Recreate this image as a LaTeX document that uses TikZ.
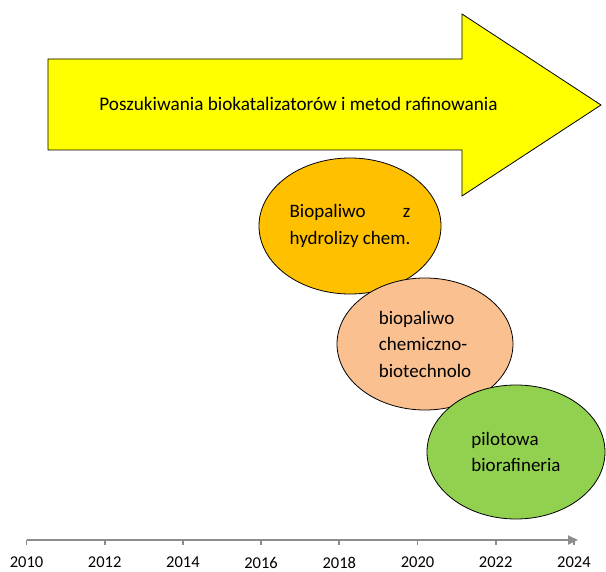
\documentclass[tikz,border=0pt]{standalone}
\usepackage{fontspec}
\setmainfont{Carlito}
\usepackage{calc}
\usetikzlibrary{shapes.geometric,arrows.meta,calc}
\definecolor{yel}{HTML}{FFFF00}
\definecolor{ora}{HTML}{FFC000}
\definecolor{pea}{HTML}{FAC090}
\definecolor{gre}{HTML}{92D050}
\definecolor{axisgray}{HTML}{8C8C8C}
\tikzset{
  blob/.style={ellipse, draw=black, line width=0.8pt, inner sep=0pt,
    minimum width=178pt, minimum height=134pt, align=left,
    font=\fontsize{19}{26.5}\selectfont},
  yearlbl/.style={font=\fontsize{16.5}{18}\selectfont, anchor=center, inner sep=0pt},
}
\begin{document}
\begin{tikzpicture}[x=1pt,y=-1pt]
\useasboundingbox (0,0) rectangle (606,572);
% big arrow
\draw[fill=yel, line width=0.8pt] (48,59) -- (462,59) -- (462,14) -- (601,105)
  -- (462,196) -- (462,150) -- (48,150) -- cycle;
\node[font=\fontsize{19.2}{22}\selectfont] (title) at (298.5,104) {Poszukiwania biokatalizatorów i metod rafinowania};
% ellipses
\node[blob, fill=ora, minimum width=182pt, minimum height=136pt] (e1) at (350,226)
  {\makebox[\widthof{hydrolizy chem.}][s]{Biopaliwo\hfill z}\\hydrolizy chem.};
\node[blob, fill=pea, minimum width=176pt, minimum height=132pt] (e2) at (425,344)
  {biopaliwo\\chemiczno-\\biotechnolo};
\node[blob, fill=gre, minimum width=178pt, minimum height=134pt] (e3) at (516,452)
  {pilotowa\\biorafineria};
% timeline
\coordinate (t0) at (26.5,540);
\coordinate (tend) at (578,540);
\draw[axisgray, line width=2pt, -{Triangle[length=10pt,width=9pt]}] (t0) -- (tend);
\foreach \i/\y in {0/2010,1/2012,2/2014,3/2016,4/2018,5/2020,6/2022,7/2024}{
  \coordinate (k\i) at (26.5+78.2*\i,540);
  \draw[axisgray, line width=1.8pt] (k\i) -- ++(0,5);
  \node[yearlbl] (y\i) at ($(k\i)+(0,22.5)$) {\y};
}
\end{tikzpicture}
\end{document}
